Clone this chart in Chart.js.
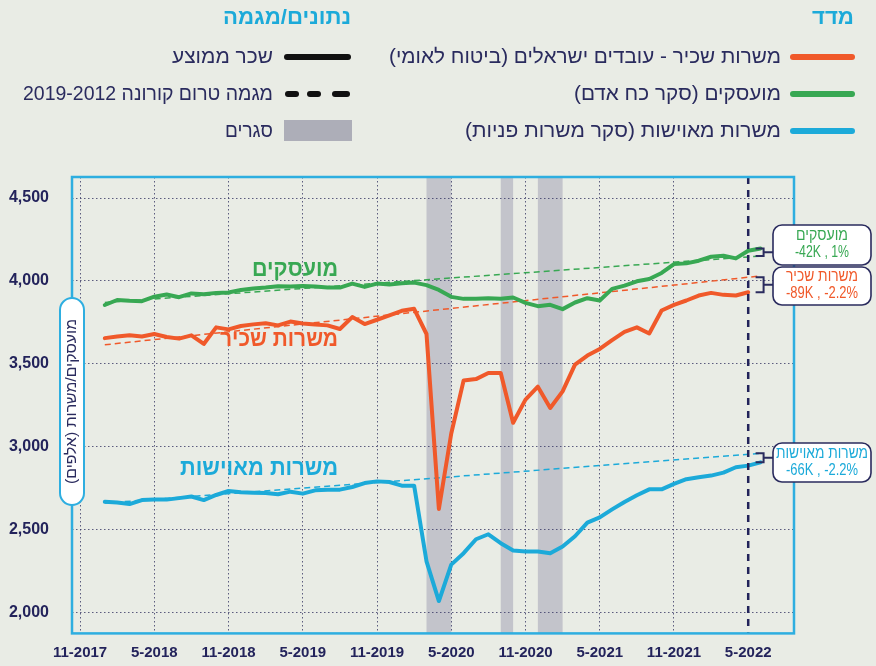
<!DOCTYPE html>
<html><head><meta charset="utf-8">
<script src="https://cdn.jsdelivr.net/npm/chart.js@4"></script>
<style>html,body{margin:0;padding:0;background:#e9ece5;}canvas{display:block}</style>
</head><body>
<canvas id="c" width="876" height="666"></canvas>
<script>
// ---- data (month index: 0 = 11-2017) ----
const xTickMonths = [0, 6, 12, 18, 24, 30, 36, 42, 48, 54];
const xTickLabels = ['11-2017','5-2018','11-2018','5-2019','11-2019','5-2020','11-2020','5-2021','11-2021','5-2022'];
const yTickValues = [2000, 2500, 3000, 3500, 4000, 4500];
const startMonth = 2; // 1-2018

const salaried = [3655,3665,3672,3665,3680,3662,3652,3672,3620,3720,
  3708,3728,3738,3745,3732,3755,3743,3738,3732,3710,
  3782,3740,3766,3793,3820,3832,3680,2625,3080,3400,
  3408,3445,3445,3145,3284,3362,3234,3334,3495,3550,
  3590,3643,3693,3720,3683,3822,3856,3882,3912,3928,
  3916,3912,3932];
const employed = [3855,3885,3880,3878,3905,3918,3902,3925,3920,3928,
  3930,3946,3955,3960,3968,3966,3970,3966,3960,3960,
  3984,3964,3984,3978,3986,3990,3975,3946,3904,3892,
  3892,3896,3892,3900,3868,3848,3856,3830,3870,3896,
  3882,3952,3972,3998,4012,4048,4102,4106,4122,4146,
  4152,4136,4182,4196];
const vacancies = [2668,2663,2654,2678,2681,2681,2690,2700,2678,2709,
  2733,2725,2723,2721,2713,2729,2717,2737,2741,2741,
  2757,2781,2791,2787,2765,2765,2309,2069,2289,2358,
  2442,2472,2418,2374,2368,2368,2358,2398,2460,2542,
  2574,2622,2667,2707,2743,2743,2776,2804,2816,2826,
  2844,2876,2886,2906];

const trendMonths = [2, 55];
const salariedTrend = [3615, 4030];
const employedTrend = [3870, 4150];
const vacanciesTrend = [2660, 2960];

const lockdowns = [[28, 30], [34, 35], [37, 39]];
const currentMonth = 54;

const legendTitles = ['מדד', 'נתונים/מגמה'];
const legendSeries = ['משרות שכיר - עובדים ישראלים (ביטוח לאומי)', 'מועסקים (סקר כח אדם)', 'משרות מאוישות (סקר משרות פניות)'];
const legendData = ['שכר ממוצע', 'מגמה טרום קורונה 2019-2012', 'סגרים'];
const inlineLabels = ['מועסקים', 'משרות שכיר', 'משרות מאוישות'];
const annotNames = ['מועסקים', 'משרות שכיר', 'משרות מאוישות'];
const annotValues = ['-42K , 1%', '-89K , -2.2%', '-66K , -2.2%'];
const yTitle = 'מועסקים/משרות (אלפים)';

// ---- styles ----
const C_OR = '#f0592a', C_GR = '#38a853', C_CY = '#1caad9', NAVY = '#2a2b5e', FRAME = '#2eaee0';
const HEB = "'Liberation Sans','DejaVu Sans',sans-serif";

const pts = (arr, s) => arr.map((v, i) => ({x: s + i, y: v}));
const trendPts = t => trendMonths.map((m, i) => ({x: m, y: t[i]}));

function txt(ctx, s, x, y, o) {
  o = Object.assign({size: 16, weight: 'normal', color: NAVY, width: null, align: 'right', dir: 'rtl'}, o || {});
  ctx.save();
  ctx.font = `${o.weight} ${o.size}px ${HEB}`;
  ctx.direction = o.dir;
  ctx.textBaseline = 'middle';
  ctx.textAlign = o.align;
  ctx.fillStyle = o.color;
  let sx = 1;
  if (o.width) { const w = ctx.measureText(s).width; sx = Math.max(0.6, Math.min(1.3, o.width / w)); }
  ctx.translate(x, y); ctx.scale(sx, 1);
  ctx.fillText(s, 0, 0);
  ctx.restore();
}
function rrect(ctx, x, y, w, h, r) {
  ctx.beginPath();
  ctx.moveTo(x + r, y); ctx.lineTo(x + w - r, y); ctx.arcTo(x + w, y, x + w, y + r, r);
  ctx.lineTo(x + w, y + h - r); ctx.arcTo(x + w, y + h, x + w - r, y + h, r);
  ctx.lineTo(x + r, y + h); ctx.arcTo(x, y + h, x, y + h - r, r);
  ctx.lineTo(x, y + r); ctx.arcTo(x, y, x + r, y, r); ctx.closePath();
}

const decor = {
  id: 'decor',
  beforeDraw(chart) {
    const {ctx, chartArea: a, scales: {x}} = chart;
    ctx.save();
    ctx.fillStyle = '#e9ece5'; ctx.fillRect(0, 0, chart.width, chart.height);
    ctx.fillStyle = '#c3c4cb';
    lockdowns.forEach(([s, e]) => {
      const x0 = x.getPixelForValue(s), x1 = x.getPixelForValue(e);
      ctx.fillRect(x0, a.top, x1 - x0, a.bottom - a.top);
    });
    ctx.restore();
  },
  afterDatasetsDraw(chart) {
    const {ctx, chartArea: a, scales: {x, y}} = chart;
    ctx.save();
    const xc = x.getPixelForValue(currentMonth);
    ctx.strokeStyle = '#22235a'; ctx.lineWidth = 2.5; ctx.setLineDash([7, 6]);
    ctx.beginPath(); ctx.moveTo(xc, a.top); ctx.lineTo(xc, a.bottom); ctx.stroke();
    ctx.setLineDash([]);
    ctx.strokeStyle = FRAME; ctx.lineWidth = 2.5;
    ctx.strokeRect(a.left, a.top, a.right - a.left, a.bottom - a.top);
    ctx.restore();
  },
  afterDraw(chart) {
    const {ctx, chartArea: a, scales: {x, y}} = chart;
    ctx.save();
    // headers
    txt(ctx, legendTitles[0], 854, 18, {size: 21, weight: 'bold', color: C_CY, width: 42});
    txt(ctx, legendTitles[1], 351, 18, {size: 21, weight: 'bold', color: C_CY, width: 128});
    const rows = [57, 94, 131];
    const cols = [C_OR, C_GR, C_CY];
    const sw = [392, 207, 316];
    ctx.lineCap = 'round';
    rows.forEach((ry, i) => {
      ctx.strokeStyle = cols[i]; ctx.lineWidth = 6;
      ctx.beginPath(); ctx.moveTo(793, ry); ctx.lineTo(852, ry); ctx.stroke();
      txt(ctx, legendSeries[i], 781, ry, {size: 20, width: sw[i]});
    });
    // left column
    ctx.strokeStyle = '#111'; ctx.lineWidth = 6;
    ctx.beginPath(); ctx.moveTo(287, rows[0]); ctx.lineTo(348, rows[0]); ctx.stroke();
    [[288, 296], [310, 318], [335, 347]].forEach(([s, e]) => {
      ctx.beginPath(); ctx.moveTo(s, rows[1]); ctx.lineTo(e, rows[1]); ctx.stroke();
    });
    ctx.fillStyle = '#adaeb8'; ctx.fillRect(284, 120, 68, 21);
    const lw = [101, 250, 48];
    rows.forEach((ry, i) => txt(ctx, legendData[i], 273, ry, {size: 20, width: lw[i]}));

    // inline labels
    const lx = x.getPixelForValue(20.85);
    txt(ctx, inlineLabels[0], lx, y.getPixelForValue(4066), {size: 23, weight: 'bold', color: C_GR, width: 86});
    txt(ctx, inlineLabels[1], lx, y.getPixelForValue(3647), {size: 23, weight: 'bold', color: C_OR, width: 118});
    txt(ctx, inlineLabels[2], lx, y.getPixelForValue(2870), {size: 23, weight: 'bold', color: C_CY, width: 158});

    // y title pill
    ctx.fillStyle = '#fff'; ctx.strokeStyle = FRAME; ctx.lineWidth = 2;
    rrect(ctx, a.left - 12, 298, 24, 207, 12); ctx.fill(); ctx.stroke();
    ctx.save(); ctx.translate(a.left, 401.5); ctx.rotate(-Math.PI / 2);
    txt(ctx, yTitle, 0, 0, {size: 15, align: 'center', width: 165});
    ctx.restore();

    // brackets + annotation boxes
    const last = a => a[a.length - 1];
    const trendAt = (t, m) => t[0] + (t[1] - t[0]) * (m - trendMonths[0]) / (trendMonths[1] - trendMonths[0]);
    const sEnd = startMonth + salaried.length - 1;
    const br = [
      [last(employed), employedTrend[1], C_GR],
      [last(salaried), trendAt(salariedTrend, sEnd), C_OR],
      [last(vacancies), vacanciesTrend[1], C_CY]
    ];
    const boxes = [[225, 40], [267, 38], [443, 39]];
    const nameW = [52, 72, 92], valW = [54, 72, 72];
    const bx = x.getPixelForValue(55) + 3;
    const boxL = 773, boxW = 98;
    br.forEach(([av, tv, col], i) => {
      const y1 = y.getPixelForValue(av), y2 = y.getPixelForValue(tv);
      const t = Math.min(y1, y2), b = Math.max(y1, y2), mid = (t + b) / 2;
      ctx.strokeStyle = NAVY; ctx.lineWidth = 2; ctx.lineCap = 'butt';
      ctx.beginPath(); ctx.moveTo(bx - 8, t); ctx.lineTo(bx, t); ctx.lineTo(bx, b); ctx.lineTo(bx - 8, b);
      ctx.moveTo(bx, mid); ctx.lineTo(boxL, mid); ctx.stroke();
      const [by, bh] = boxes[i];
      ctx.fillStyle = '#fff'; ctx.strokeStyle = NAVY; ctx.lineWidth = 1.6;
      rrect(ctx, boxL, by, boxW, bh, 9); ctx.fill(); ctx.stroke();
      const cx = boxL + boxW / 2, cy = by + bh / 2;
      txt(ctx, annotNames[i], cx, cy - 9, {size: 16, color: col, align: 'center', width: nameW[i]});
      txt(ctx, annotValues[i], cx, cy + 8, {size: 16, color: col, align: 'center', dir: 'ltr', width: valW[i]});
    });
    ctx.restore();
  }
};

const lineDS = (data, color) => ({data, borderColor: color, borderWidth: 4, pointRadius: 0, tension: 0, borderJoinStyle: 'round', borderCapStyle: 'round', fill: false});
const trendDS = (data, color) => ({data, borderColor: color, borderWidth: 1.5, borderDash: [6, 4], pointRadius: 0, tension: 0, fill: false});

const gridColor = 'rgba(55,56,100,0.8)';
new Chart(document.getElementById('c'), {
  type: 'line',
  data: {datasets: [
    lineDS(pts(salaried, startMonth), C_OR),
    lineDS(pts(employed, startMonth), C_GR),
    lineDS(pts(vacancies, startMonth), C_CY),
    trendDS(trendPts(salariedTrend), C_OR),
    trendDS(trendPts(employedTrend), C_GR),
    trendDS(trendPts(vacanciesTrend), C_CY)
  ]},
  options: {
    responsive: false, animation: false, events: [],
    layout: {padding: {left: 0, right: 82, top: 177, bottom: 0}},
    plugins: {legend: {display: false}, tooltip: {enabled: false}},
    scales: {
      x: {
        type: 'linear', min: -0.65, max: 57.7,
        afterBuildTicks: s => { s.ticks = xTickMonths.map(v => ({value: v})); },
        afterFit: s => { s.height = 29; },
        ticks: {
          autoSkip: false, maxRotation: 0, padding: 10, color: '#23235b',
          font: {family: 'Liberation Sans', size: 15, weight: 'bold'},
          callback: v => xTickLabels[xTickMonths.indexOf(v)]
        },
        grid: {drawTicks: false, lineWidth: 1, color: c => (c.tick && c.tick.value === currentMonth) ? 'rgba(0,0,0,0)' : gridColor},
        border: {display: false, dash: [1.5, 2.5]}
      },
      y: {
        min: 1874, max: 4627,
        afterBuildTicks: s => { s.ticks = yTickValues.map(v => ({value: v})); },
        afterFit: s => { s.width = 72; },
        ticks: {
          padding: 23, color: '#23235b',
          font: {family: 'Liberation Sans', size: 16, weight: 'bold'},
          callback: v => v.toLocaleString('en-US')
        },
        grid: {drawTicks: false, lineWidth: 1, color: gridColor},
        border: {display: false, dash: [1.5, 2.5]}
      }
    }
  },
  plugins: [decor]
});
</script>
</body></html>
